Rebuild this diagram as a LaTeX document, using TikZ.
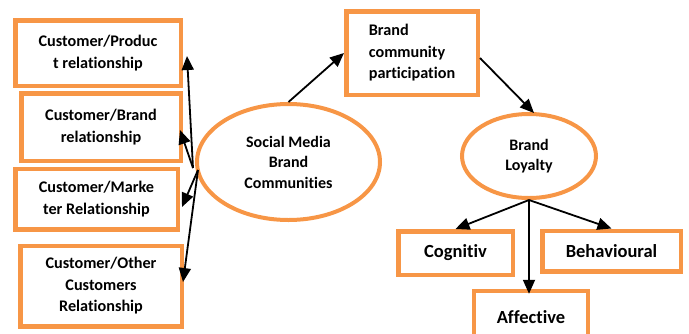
\documentclass[tikz,border=0pt]{standalone}
\usepackage{fontspec}
\setmainfont{Carlito}[Ligatures=NoCommon]
\usetikzlibrary{arrows.meta,shapes.geometric,calc}
\definecolor{borange}{HTML}{F79646}
\begin{document}
\begin{tikzpicture}[x=1pt,y=-1pt,
  box/.style={draw=borange,line width=4.5pt,rectangle,inner sep=0pt,
    font=\bfseries\fontsize{16.2}{21.5}\selectfont,align=center},
  bigbox/.style={box,font=\bfseries\fontsize{18.5}{22}\selectfont},
  oval/.style={draw=borange,line width=4pt,ellipse,inner sep=0pt,
    font=\bfseries\fontsize{16}{20.5}\selectfont,align=center},
  arr/.style={line width=1.8pt,-{Triangle[length=14pt,width=12pt]}}]
\useasboundingbox (0,0) rectangle (689,333);

% left boxes
\node[box,minimum width=165.5pt,minimum height=65.5pt] (c1) at (98,53) {Customer/Produc\\t relationship};
\node[box,minimum width=159.5pt,minimum height=67.5pt] (c2) at (101,127) {Customer/Brand\\relationship};
\node[box,minimum width=162.5pt,minimum height=60.5pt] (c3) at (96.5,199) {Customer/Marke\\ter Relationship};
\node[box,minimum width=161.5pt,minimum height=80.5pt] (c4) at (101,286) {Customer/Other\\Customers\\Relationship};

% ellipses
\node[oval,minimum width=183pt,minimum height=116pt] (sm) at (288.5,162) {Social Media\\Brand\\Communities};
\node[oval,minimum width=134pt,minimum height=84pt] (bl) at (529,156) {Brand\\Loyalty};

% brand community participation
\node[box,align=left,minimum width=131.5pt,minimum height=83.5pt] (bcp) at (412,53) {Brand\\community\\participation};

% loyalty dimensions
\node[bigbox,minimum width=114.5pt,minimum height=43.5pt] (cog) at (455.5,253) {Cognitiv};
\node[bigbox,minimum width=138.5pt,minimum height=40.5pt] (beh) at (611.5,251) {Behavioural};
\node[bigbox,minimum width=114pt,minimum height=52pt] (aff) at (531,317) {Affective};

% origins of the left arrows
\coordinate (o1) at (193,168);
\coordinate (o2) at (198,170);

\draw[arr] (o1) -- ($(c1.east)+(4,3)$);
\draw[arr] (o1) -- ($(c2.east)+(-3,3)$);
\draw[arr] (o2) -- ($(c3.east)+(2,8)$);
\draw[arr] (o2) -- ($(c4.east)+(-1,-4)$);

\draw[arr] (sm.north) -- (bcp.west);
\draw[arr] ($(bcp.east)+(0,5)$) -- ($(bl.north)+(5,1)$);

\draw[arr] (bl.south) -- (cog.north);
\draw[arr] (bl.south) -- (beh.north);
\draw[arr] (bl.south) -- ($(aff.north)+(-2,5)$);
\end{tikzpicture}
\end{document}
